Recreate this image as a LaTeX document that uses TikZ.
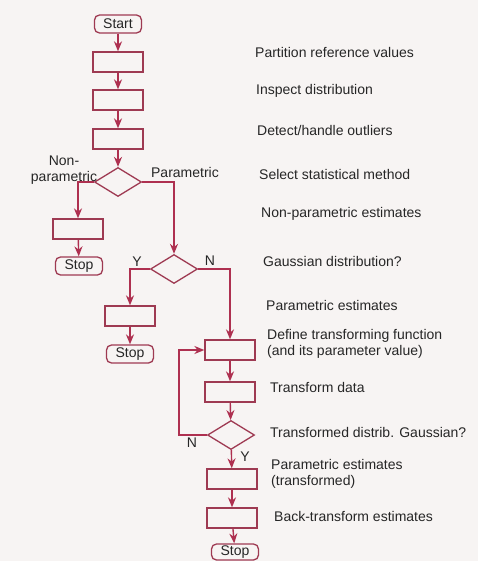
\documentclass[tikz,border=0pt]{standalone}
\usepackage{fontspec}
\setmainfont{Liberation Sans}
\usetikzlibrary{shapes.geometric, arrows.meta, positioning}
\definecolor{flowred}{HTML}{AE3050}
\definecolor{boxred}{HTML}{9E3A52}
\definecolor{paper}{HTML}{F7F4F3}
\definecolor{ink}{HTML}{262626}

\begin{document}
\begin{tikzpicture}[
    x=1pt, y=-1pt,
    proc/.style = {rectangle, draw=boxred, line width=1.3pt,
                   minimum width=50pt, minimum height=20pt, inner sep=0pt},
    term/.style = {rectangle, rounded corners=5pt, draw=boxred, line width=1.3pt,
                   minimum width=47pt, minimum height=18pt, inner sep=1pt,
                   font=\fontsize{14}{16}\selectfont, text=ink},
    dec/.style  = {diamond, draw=boxred, line width=1.3pt,
                   minimum width=47pt, minimum height=29pt, inner sep=0pt},
    arr/.style  = {-{Stealth[length=10pt,width=8pt]}, line width=1.4pt, draw=flowred},
    lbl/.style  = {font=\fontsize{14}{16}\selectfont, text=ink, inner sep=0pt},
    side/.style = {lbl, anchor=west, align=left}
  ]
  % Page
  \fill[paper] (0,0) rectangle (478,561);
  \useasboundingbox (0,0) rectangle (478,561);

  % Main column
  \node[term] (start)    at (118, 24)  {Start};
  \node[proc] (partition) at (118, 62) {};
  \node[proc] (inspect)  at (118,100)  {};
  \node[proc] (outliers) at (118,139)  {};
  \node[dec]  (method)   at (118,182)  {};

  % Non-parametric branch
  \node[proc] (nonpar)   at ( 78,229)  {};
  \node[term] (stopa)    at ( 79,266)  {Stop};

  % Parametric branch
  \node[dec]  (gauss)    at (174,269)  {};
  \node[proc] (paramest) at (130,316)  {};
  \node[term] (stopb)    at (130,354)  {Stop};

  % Transformation loop
  \node[proc] (define)   at (230,350)  {};
  \node[proc] (transf)   at (230,392)  {};
  \node[dec]  (tgauss)   at (231,435)  {};
  \node[proc] (paramtr)  at (232,479)  {};
  \node[proc] (backtr)   at (232,518)  {};
  \node[term, minimum height=16pt, inner sep=0pt] (stopc) at (235,552) {Stop};

  % Descriptions
  \node[side] (dpartition) at (255, 52) {Partition reference values};
  \node[side] (dinspect)   at (256, 91) {Inspect distribution};
  \node[side] (doutliers)  at (257,130) {Detect/handle outliers};
  \node[side] (dmethod)    at (259,174) {Select statistical method};
  \node[side] (dnonpar)    at (261,214) {Non-parametric estimates};
  \node[side] (dgauss)     at (263,261) {Gaussian distribution?};
  \node[side] (dparamest)  at (266,305) {Parametric estimates};
  \node[side] (ddefine)    at (267,344) {Define transforming function\\(and its parameter value)};
  \node[side] (dtransf)    at (270,387) {Transform data};
  \node[side] (dtgauss)    at (270,432) {Transformed distrib. Gaussian?};
  \node[side] (dparamtr)   at (271,474) {Parametric estimates\\(transformed)};
  \node[side] (dbacktr)    at (274,516) {Back-transform estimates};

  % Branch labels
  \node[lbl, align=center] (lnonpar) at ( 64,170) {Non-\\parametric};
  \node[lbl] (lpar)  at (185,172) {Parametric};
  \node[lbl] (ly1)   at (137,262) {Y};
  \node[lbl] (ln1)   at (210,261) {N};
  \node[lbl] (ln2)   at (192,443) {N};
  \node[lbl] (ly2)   at (245,457) {Y};

  % Arrows
  \draw[arr] (start)     -- (partition);
  \draw[arr] (partition) -- (inspect);
  \draw[arr] (inspect)   -- (outliers);
  \draw[arr] (outliers)  -- (method);
  \draw[arr] (method.west) -| (nonpar);
  \draw[arr] (nonpar)    -- (stopa);
  \draw[arr] (method.east) -| (gauss);
  \draw[arr] (gauss.west)  -| (paramest);
  \draw[arr] (paramest)  -- (stopb);
  \draw[arr] (gauss.east)  -| (define);
  \draw[arr] (define)    -- (transf);
  \draw[arr] (transf)    -- (tgauss);
  \draw[arr] (tgauss.west) -- ++(-28,0) |- (define.west);
  \draw[arr] (tgauss)    -- (paramtr);
  \draw[arr] (paramtr)   -- (backtr);
  \draw[arr] (backtr)    -- (stopc);
\end{tikzpicture}
\end{document}
